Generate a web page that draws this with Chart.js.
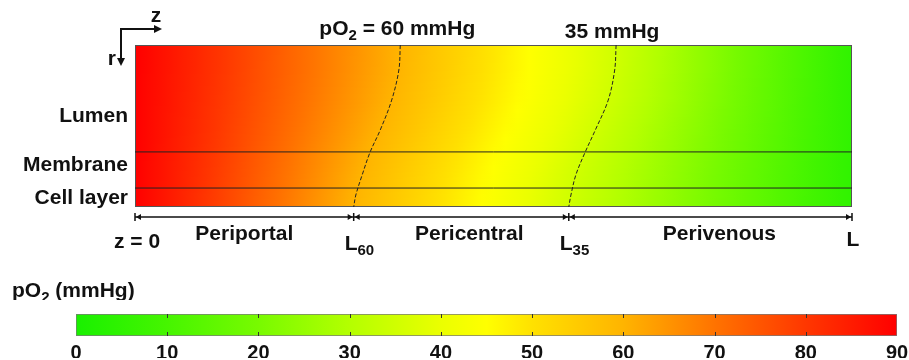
<!DOCTYPE html>
<html>
<head>
<meta charset="utf-8">
<script src="https://cdn.jsdelivr.net/npm/chart.js@4"></script>
<style>
html, body { margin: 0; padding: 0; background: #fff; overflow: hidden; }
#main { position: absolute; left: 0; top: 0; }
#bar { position: absolute; left: 0; top: 300px; }
</style>
</head>
<body>
<canvas id="main" width="909" height="300"></canvas>
<canvas id="bar" width="909" height="66"></canvas>
<script>
// contour lines, r = 0 at the top of the lumen, 1 at the bottom of the cell layer; z in units of L
let contourR = [0, 0.154, 0.34, 0.525, 0.66, 0.80, 0.926, 1];
let contour60Z = [0.370, 0.368, 0.358, 0.342, 0.328, 0.317, 0.308, 0.305];
let contour35Z = [0.671, 0.669, 0.660, 0.642, 0.628, 0.615, 0.608, 0.605];
let contourLevels = [60, 35];
let edgePO2 = [90, 5];

let layerR = [0.66, 0.883];
let layerNames = ["Lumen", "Membrane", "Cell layer"];
let zoneNames = ["Periportal", "Pericentral", "Perivenous"];
let zMarks = [0, 0.305, 0.605, 1];

let cmapValues = [0, 10, 20, 30, 40, 45, 50, 60, 70, 80, 90];
let cmapColors = [[25, 240, 0], [70, 245, 0], [120, 250, 0], [180, 255, 0], [235, 255, 0], [255, 255, 0],
                  [255, 225, 0], [255, 180, 0], [255, 115, 0], [255, 55, 0], [255, 0, 0]];
let barTicks = [0, 10, 20, 30, 40, 50, 60, 70, 80, 90];

const FONT = "'Liberation Sans', Arial, sans-serif";
const BIG = `bold 21px ${FONT}`;
const SMALL = `bold 15px ${FONT}`;

function interp(xs, ys, v) {
    if (v <= xs[0]) return ys[0];
    for (let i = 1; i < xs.length; i++) {
        if (v <= xs[i]) {
            let t = (v - xs[i - 1]) / (xs[i] - xs[i - 1]);
            return ys[i - 1] + t * (ys[i] - ys[i - 1]);
        }
    }
    return ys[ys.length - 1];
}

function cmap(v) {
    let c = [0, 1, 2].map(k => Math.round(interp(cmapValues, cmapColors.map(col => col[k]), v)));
    return `rgb(${c[0]},${c[1]},${c[2]})`;
}

// text with a subscript part
function subText(ctx, x, y, main, sub, rest, align) {
    ctx.font = BIG;
    let w1 = ctx.measureText(main).width;
    let w3 = rest ? ctx.measureText(rest).width : 0;
    ctx.font = SMALL;
    let w2 = ctx.measureText(sub).width;
    let total = w1 + w2 + w3;
    let x0 = align === "center" ? x - total / 2 : x;
    ctx.textAlign = "left";
    ctx.font = BIG;
    ctx.fillText(main, x0, y);
    ctx.font = SMALL;
    ctx.fillText(sub, x0 + w1, y + 5);
    if (rest) {
        ctx.font = BIG;
        ctx.fillText(rest, x0 + w1 + w2, y);
    }
}

const fieldPlugin = {
    id: "field",
    beforeDatasetsDraw(chart) {
        let { ctx, chartArea: a, scales: { x, y } } = chart;
        ctx.save();
        for (let py = Math.floor(a.top); py < a.bottom; py++) {
            let r = y.getValueForPixel(py + 0.5);
            let zs = [0, interp(contourR, contour60Z, r), interp(contourR, contour35Z, r), 1];
            let ps = [edgePO2[0], contourLevels[0], contourLevels[1], edgePO2[1]];
            let g = ctx.createLinearGradient(x.getPixelForValue(0), 0, x.getPixelForValue(1), 0);
            for (let k = 0; k <= 60; k++) {
                let z = k / 60;
                g.addColorStop(z, cmap(interp(zs, ps, z)));
            }
            ctx.fillStyle = g;
            ctx.fillRect(a.left, py, a.right - a.left, 1);
        }
        ctx.strokeStyle = "#555";
        ctx.lineWidth = 1;
        ctx.strokeRect(a.left + 0.5, a.top + 0.5, a.right - a.left - 1, a.bottom - a.top - 1);
        ctx.restore();
    },
    afterDraw(chart) {
        let { ctx, chartArea: a, scales: { x } } = chart;
        ctx.save();
        ctx.fillStyle = "#111";
        ctx.strokeStyle = "#111";
        ctx.textBaseline = "alphabetic";

        // z / r axes glyph
        ctx.lineWidth = 2;
        ctx.beginPath();
        ctx.moveTo(121, 60); ctx.lineTo(121, 29); ctx.lineTo(156, 29);
        ctx.stroke();
        ctx.beginPath();
        ctx.moveTo(162, 29); ctx.lineTo(154, 25); ctx.lineTo(154, 33); ctx.closePath(); ctx.fill();
        ctx.beginPath();
        ctx.moveTo(121, 66); ctx.lineTo(117, 58); ctx.lineTo(125, 58); ctx.closePath(); ctx.fill();
        ctx.font = BIG;
        ctx.textAlign = "center";
        ctx.fillText("z", 156, 22);
        ctx.textAlign = "right";
        ctx.fillText("r", 116, 65);

        // contour labels
        subText(ctx, x.getPixelForValue(contour60Z[0]) - 3, 35, "pO", "2", ` = ${contourLevels[0]} mmHg`, "center");
        ctx.font = BIG;
        ctx.textAlign = "center";
        ctx.fillText(`${contourLevels[1]} mmHg`, x.getPixelForValue(contour35Z[0]) - 4, 38);

        // layer names
        ctx.textAlign = "right";
        [122, 171, 204].forEach((yy, i) => ctx.fillText(layerNames[i], 128, yy));

        // z axis line with markers
        let ay = 217;
        let xs = zMarks.map(v => x.getPixelForValue(v));
        ctx.lineWidth = 1.5;
        ctx.beginPath();
        ctx.moveTo(xs[0], ay); ctx.lineTo(xs[3], ay);
        xs.forEach(px => { ctx.moveTo(px, ay - 4); ctx.lineTo(px, ay + 4); });
        ctx.stroke();
        xs.forEach((px, i) => {
            if (i > 0) { ctx.beginPath(); ctx.moveTo(px - 1, ay); ctx.lineTo(px - 6, ay - 3); ctx.lineTo(px - 6, ay + 3); ctx.closePath(); ctx.fill(); }
            if (i < 3) { ctx.beginPath(); ctx.moveTo(px + 1, ay); ctx.lineTo(px + 6, ay - 3); ctx.lineTo(px + 6, ay + 3); ctx.closePath(); ctx.fill(); }
        });

        ctx.font = BIG;
        ctx.textAlign = "center";
        ctx.fillText("z = 0", xs[0] + 2, 248);
        subText(ctx, xs[1] - 9, 250, "L", "60", "", "left");
        subText(ctx, xs[2] - 9, 250, "L", "35", "", "left");
        ctx.font = BIG;
        ctx.textAlign = "center";
        ctx.fillText("L", xs[3] + 1, 246);
        let shift = [0, 8, 9];
        zoneNames.forEach((n, i) => ctx.fillText(n, (xs[i] + xs[i + 1]) / 2 + shift[i], 240));

        // colour bar title
        subText(ctx, 12, 297, "pO", "2", " (mmHg)", "left");
        ctx.restore();
    }
};

function lineSet(points, dash) {
    return {
        data: points,
        showLine: true,
        borderColor: "#222",
        borderWidth: 1,
        borderDash: dash,
        pointRadius: 0,
        tension: dash.length ? 0.35 : 0
    };
}

new Chart(document.getElementById("main"), {
    type: "scatter",
    data: {
        datasets: [
            lineSet(contourR.map((r, i) => ({ x: contour60Z[i], y: r })), [4, 2]),
            lineSet(contourR.map((r, i) => ({ x: contour35Z[i], y: r })), [4, 2]),
            lineSet([{ x: 0, y: layerR[0] }, { x: 1, y: layerR[0] }], []),
            lineSet([{ x: 0, y: layerR[1] }, { x: 1, y: layerR[1] }], [])
        ]
    },
    options: {
        responsive: false,
        animation: false,
        layout: { padding: { left: 135, right: 57, top: 45, bottom: 93 } },
        plugins: { legend: { display: false }, tooltip: { enabled: false } },
        scales: {
            x: { type: "linear", min: 0, max: 1, display: false },
            y: { type: "linear", min: 0, max: 1, reverse: true, display: false }
        }
    },
    plugins: [fieldPlugin]
});

const barMarks = {
    id: "barMarks",
    afterDatasetsDraw(chart) {
        let { ctx, chartArea: a, scales: { x } } = chart;
        ctx.save();
        ctx.strokeStyle = "#333";
        ctx.lineWidth = 1;
        ctx.beginPath();
        barTicks.slice(1, -1).forEach(v => {
            let px = Math.round(x.getPixelForValue(v)) + 0.5;
            ctx.moveTo(px, a.top); ctx.lineTo(px, a.top + 4);
            ctx.moveTo(px, a.bottom - 4); ctx.lineTo(px, a.bottom);
        });
        ctx.stroke();
        ctx.restore();
    }
};

new Chart(document.getElementById("bar"), {
    type: "bar",
    data: {
        labels: ["pO2"],
        datasets: [{
            data: [[barTicks[0], barTicks[barTicks.length - 1]]],
            backgroundColor: (c) => {
                let a = c.chart.chartArea;
                if (!a) return cmap(45);
                let x = c.chart.scales.x;
                let g = c.chart.ctx.createLinearGradient(x.getPixelForValue(0), 0, x.getPixelForValue(90), 0);
                cmapValues.forEach(v => g.addColorStop(v / 90, cmap(v)));
                return g;
            },
            borderColor: "#7a7a7a",
            borderWidth: 1,
            borderSkipped: false,
            barPercentage: 1,
            categoryPercentage: 1
        }]
    },
    options: {
        indexAxis: "y",
        responsive: false,
        animation: false,
        layout: { padding: { left: 76, right: 12, top: 14, bottom: 8 } },
        plugins: { legend: { display: false }, tooltip: { enabled: false } },
        scales: {
            x: {
                type: "linear",
                min: 0,
                max: 90,
                afterBuildTicks: (s) => { s.ticks = barTicks.map(v => ({ value: v })); },
                grid: { display: false },
                border: { display: false },
                ticks: { padding: -3, color: "#111", font: { family: FONT, weight: "bold", size: 20 } }
            },
            y: { display: false }
        }
    },
    plugins: [barMarks]
});
</script>
</body>
</html>
